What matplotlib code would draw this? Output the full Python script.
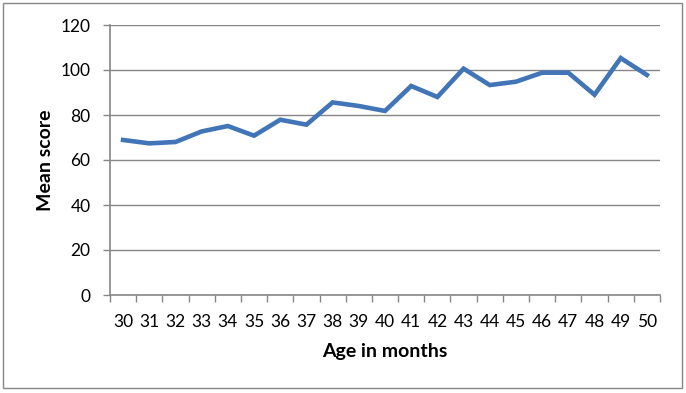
import matplotlib
matplotlib.use("Agg")
import matplotlib.pyplot as plt
from matplotlib.patches import Rectangle
from matplotlib.ticker import FixedLocator

ages = [str(a) for a in range(30, 51)]
mean_scores = [68.9, 67.4, 68.0, 72.7, 75.1, 70.8, 77.9, 75.7, 85.6, 84.0, 81.8,
               92.9, 88.0, 100.6, 93.3, 94.8, 98.8, 98.8, 89.0, 105.3, 97.8]
y_ticks = [0, 20, 40, 60, 80, 100, 120]

W, H = 686, 393
fig = plt.figure(figsize=(W / 100, H / 100), dpi=100)
plt.rcParams['font.family'] = ['Lato', 'DejaVu Sans']

ax = fig.add_axes([110 / W, 1 - 295 / H, 550 / W, 270 / H])
grid_c = '#868686'
x = list(range(len(ages)))
ax.plot(x, mean_scores, color='#4175B8', lw=3.3, solid_joinstyle='miter', zorder=3)

ax.set_xlim(-0.5, len(ages) - 0.5)
ax.set_ylim(0, 120)
ax.set_yticks(y_ticks)
ax.yaxis.grid(True, color=grid_c, lw=1)
ax.set_axisbelow(True)
for s in ['top', 'right']:
    ax.spines[s].set_visible(False)
for s in ['left', 'bottom']:
    ax.spines[s].set_color(grid_c)
    ax.spines[s].set_linewidth(1.2)

ax.set_xticks(x)
ax.set_xticklabels(ages)
ax.xaxis.set_minor_locator(FixedLocator([i - 0.5 for i in range(len(ages) + 1)]))
ax.tick_params(axis='x', which='major', length=0, pad=14, labelsize=12.5, colors='black')
ax.tick_params(axis='x', which='minor', length=5, width=1, color=grid_c, direction='out')
ax.tick_params(axis='y', length=5, width=1, color=grid_c, pad=9, labelsize=12.5)

ax.set_xlabel('Age in months', fontsize=14, fontweight='bold', labelpad=9)
ax.set_ylabel('Mean score', fontsize=14, fontweight='bold', labelpad=5)

fig.patches.append(Rectangle((3 / W, 1 - 388 / H), 679 / W, 385 / H,
                             transform=fig.transFigure, fill=False,
                             edgecolor=grid_c, lw=1))
fig.savefig('out.png', dpi=100)
